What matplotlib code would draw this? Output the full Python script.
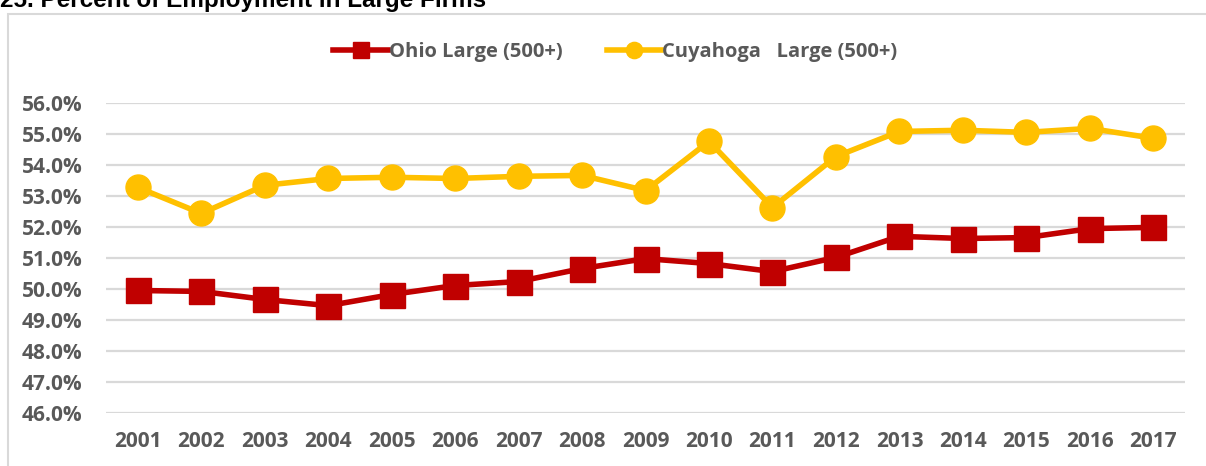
import matplotlib.pyplot as plt
from matplotlib.patches import Rectangle
from matplotlib.ticker import FuncFormatter

years = ['2001', '2002', '2003', '2004', '2005', '2006', '2007', '2008', '2009',
         '2010', '2011', '2012', '2013', '2014', '2015', '2016', '2017']
ohio = [49.95, 49.92, 49.66, 49.46, 49.82, 50.11, 50.24, 50.66, 50.98,
        50.82, 50.56, 51.02, 51.70, 51.63, 51.66, 51.95, 51.99]
cuyahoga = [53.28, 52.44, 53.35, 53.57, 53.61, 53.57, 53.64, 53.67, 53.18,
            54.77, 52.63, 54.28, 55.09, 55.13, 55.06, 55.19, 54.87]

red = '#C00000'
gold = '#FFC000'
grey = '#595959'

fig = plt.figure(figsize=(12.06, 4.66), dpi=100)
ax = fig.add_axes([0.088, 0.1144, 0.8946, 0.6639])

# outer chart border (Excel style)
fig.patches.append(Rectangle((8 / 1206, -0.1), 1.2, 1 - 14 / 466 + 0.1,
                             transform=fig.transFigure, fill=False,
                             edgecolor='#D9D9D9', linewidth=1.5))

# title is cropped at the top in the source image
fig.text(0.0, 1.0, '25. Percent of Employment in Large Firms', fontsize=17.5,
         fontweight='bold', family='Liberation Sans', va='center', ha='left')

x = range(len(years))
ax.plot(x, ohio, color=red, lw=4, marker='s', ms=18, label='Ohio Large (500+)', zorder=3)
ax.plot(x, cuyahoga, color=gold, lw=4, marker='o', ms=18,
        label='Cuyahoga   Large (500+)', zorder=3)

ax.set_xlim(-0.5, len(years) - 0.5)
ax.set_ylim(46, 56)
ax.set_yticks(range(46, 57))
ax.yaxis.set_major_formatter(FuncFormatter(lambda v, p: f'{v:.1f}%'))
ax.set_xticks(list(x))
ax.set_xticklabels(years)
ax.grid(axis='y', color='#D9D9D9', lw=1.6)
ax.set_axisbelow(True)
for s in ax.spines.values():
    s.set_visible(False)
ax.tick_params(length=0, labelsize=15, labelcolor=grey, pad=13)
ax.tick_params(axis='y', pad=17)
for lbl in ax.get_xticklabels() + ax.get_yticklabels():
    lbl.set_fontweight('bold')
    lbl.set_family('Open Sans')

leg = ax.legend(loc='center', bbox_to_anchor=(0.472, 1.166), ncol=2, frameon=False,
                prop={'family': 'Open Sans', 'weight': 'bold', 'size': 14.5},
                handlelength=2.7, handletextpad=0.05, columnspacing=2.2, markerscale=0.65)
for t in leg.get_texts():
    t.set_color(grey)

fig.savefig('out.png', dpi=100)
